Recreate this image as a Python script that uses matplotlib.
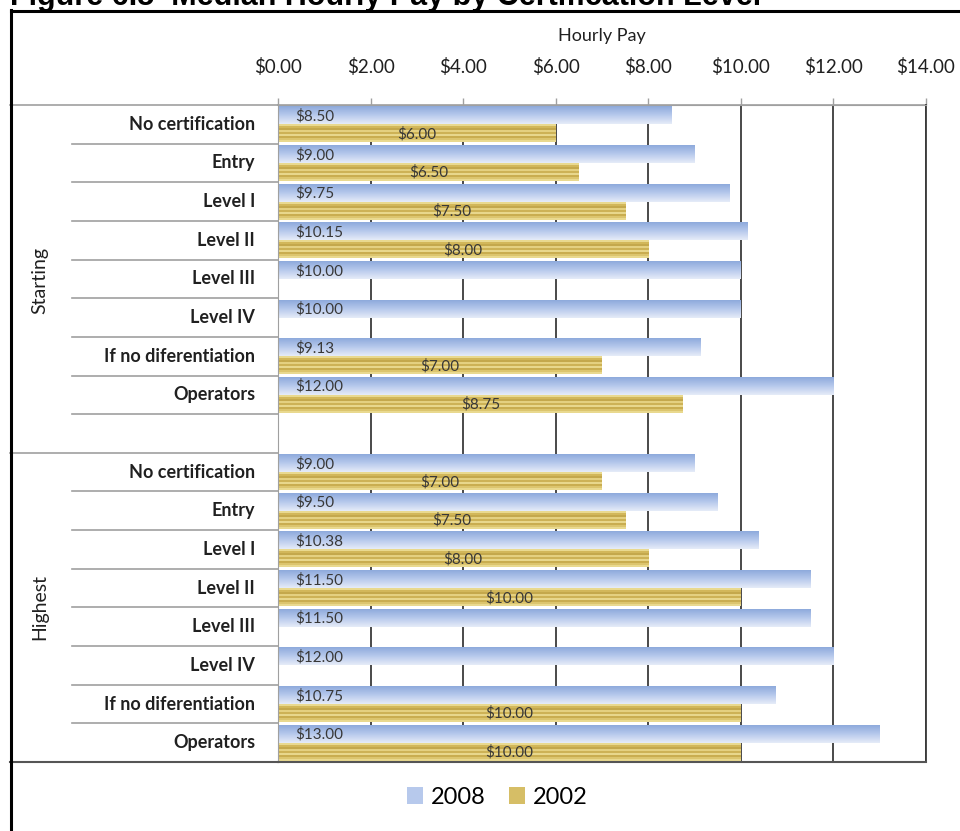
import numpy as np
import matplotlib
matplotlib.use("Agg")
import matplotlib.pyplot as plt
from matplotlib.colors import LinearSegmentedColormap, ListedColormap
from matplotlib.patches import Patch
import matplotlib.transforms as mtransforms

# ---------------- data ----------------
categories = ["No certification", "Entry", "Level I", "Level II", "Level III",
              "Level IV", "If no diferentiation", "Operators"]
groups = ["Starting", "Highest"]
starting_2008 = [8.50, 9.00, 9.75, 10.15, 10.00, 10.00, 9.13, 12.00]
starting_2002 = [6.00, 6.50, 7.50, 8.00, None, None, 7.00, 8.75]
highest_2008 = [9.00, 9.50, 10.38, 11.50, 11.50, 12.00, 10.75, 13.00]
highest_2002 = [7.00, 7.50, 8.00, 10.00, None, None, 10.00, 10.00]
x_ticks = [0, 2, 4, 6, 8, 10, 12, 14]
series_names = ["2008", "2002"]

# rows: Starting 0..7, blank row 8, Highest 9..16
row_labels = categories + [""] + categories
vals_2008 = starting_2008 + [None] + highest_2008
vals_2002 = starting_2002 + [None] + highest_2002
n_rows = len(row_labels)
rows = np.arange(n_rows)

W, H = 960, 831
fig = plt.figure(figsize=(W / 100, H / 100), dpi=100)
ax = fig.add_axes([278 / W, 1 - 762 / H, (926 - 278) / W, (762 - 105) / H])

LABEL_FONT = ["Lato", "DejaVu Sans"]

ax.set_xlim(0, 14)
ax.set_ylim(n_rows - 0.5, -0.5)

bh = 0.465
off = 0.2325

blue_cmap = LinearSegmentedColormap.from_list("b", ["#8eaadc", "#b7c9ec", "#e6ecf8"])
gold_cmap = ListedColormap(["#e9d98f", "#d2b75a", "#c4a84c", "#e4d080", "#cdb256",
                            "#e8d78c", "#c9ad50", "#dcc56e", "#e9d98f"])
blue_grad = np.linspace(0, 1, 64).reshape(-1, 1)
gold_grad = np.linspace(0, 1, 9).reshape(-1, 1)

for r, v in zip(rows, vals_2008):
    if v is None:
        continue
    b = ax.barh(r - off, v, height=bh, color="#b7c9ec", edgecolor="none", zorder=2)[0]
    im = ax.imshow(blue_grad, cmap=blue_cmap, aspect="auto", origin="upper",
                   extent=(0, v, r - off + bh / 2, r - off - bh / 2), zorder=2.1,
                   interpolation="bilinear")
    im.set_clip_path(b)
    ax.text(0.38, r - 0.21, f"${v:.2f}", ha="left", va="center", fontsize=11,
            color="#383838", family=LABEL_FONT, zorder=4)

for r, v in zip(rows, vals_2002):
    if v is None:
        continue
    b = ax.barh(r + off, v, height=bh, color="#d6be66", edgecolor="none", zorder=2)[0]
    im = ax.imshow(gold_grad, cmap=gold_cmap, aspect="auto", origin="upper",
                   extent=(0, v, r + off + bh / 2, r + off - bh / 2), zorder=2.1,
                   interpolation="nearest")
    im.set_clip_path(b)
    ax.text(v / 2, r + 0.25, f"${v:.2f}", ha="center", va="center", fontsize=11,
            color="#383838", family=LABEL_FONT, zorder=4)

ax.set_xlim(0, 14)
ax.set_ylim(n_rows - 0.5, -0.5)

# axis on top
ax.xaxis.tick_top()
ax.xaxis.set_label_position("top")
ax.set_xticks(x_ticks)
ax.set_xticklabels([f"${t:.2f}" for t in x_ticks], family=LABEL_FONT, fontsize=13.5)
ax.tick_params(axis="x", length=5, width=1, color="#a0a0a0", pad=16, labelcolor="#202020")
ax.set_xlabel("Hourly Pay", family=LABEL_FONT, fontsize=13, labelpad=12, color="#202020")
ax.set_yticks([])
ax.grid(axis="x", color="#3a3a3a", linewidth=1.3, zorder=0)
ax.set_axisbelow(True)
for s in ["top", "left"]:
    ax.spines[s].set_color("#a0a0a0")
ax.spines["right"].set_color("#3a3a3a")
ax.spines["bottom"].set_color("#555555")
ax.spines["bottom"].set_linewidth(1.5)
ax.spines["right"].set_linewidth(1.3)

# category table on the left
tr = mtransforms.blended_transform_factory(ax.transAxes, ax.transData)
x_group = (10 - 278) / (926 - 278)
x_cat = (72 - 278) / (926 - 278)
x_lab = (255 - 278) / (926 - 278)
x_grp_lab = (40 - 278) / (926 - 278)
for r, lab in zip(rows, row_labels):
    if lab:
        ax.text(x_lab, r, lab, transform=tr, ha="right", va="center", fontsize=13,
                fontweight="bold", family=LABEL_FONT, color="#202020")
group_bounds = [-0.5, 8.5, 16.5]
for b in np.arange(-0.5, n_rows, 1.0):
    x0 = x_group if b in group_bounds else x_cat
    ax.plot([x0, 0], [b, b], transform=tr, color="#a0a0a0", lw=1.2, clip_on=False)
ax.plot([x_group, 0], [16.5, 16.5], transform=tr, color="#555555", lw=1.5, clip_on=False)
ax.plot([0, 1], [-0.5, -0.5], transform=tr, color="#a0a0a0", lw=1.2, clip_on=False)
group_centers = [4.05, 12.5]
for g, c in zip(groups, group_centers):
    ax.text(x_grp_lab, c, g, transform=tr, rotation=90, ha="center", va="center",
            fontsize=14, family=LABEL_FONT, color="#202020")

# outer frame
fig.add_artist(plt.Line2D([10.5 / W, 10.5 / W], [0, 1 - 10 / H], color="black", lw=2.2))
fig.add_artist(plt.Line2D([10.5 / W, 1], [1 - 10.5 / H, 1 - 10.5 / H], color="black", lw=2.2))

# title (cut off by the top edge)
fig.text(10 / W, 1 - 4.5 / H, "Figure 6.5  Median Hourly Pay by Certification Level",
         ha="left", va="baseline", fontsize=22, fontweight="bold",
         family=["Liberation Sans", "DejaVu Sans"])

# legend
handles = [Patch(facecolor="#b7c9ec", edgecolor="none"),
           Patch(facecolor="#d6be66", edgecolor="none")]
fig.legend(handles, series_names, loc="center", bbox_to_anchor=(497 / W, 1 - 797 / H),
           ncol=2, frameon=False, prop={"family": LABEL_FONT, "size": 17},
           handlelength=0.7, handleheight=0.7, handletextpad=0.3, columnspacing=1.0)

fig.savefig("out.png", dpi=100)
